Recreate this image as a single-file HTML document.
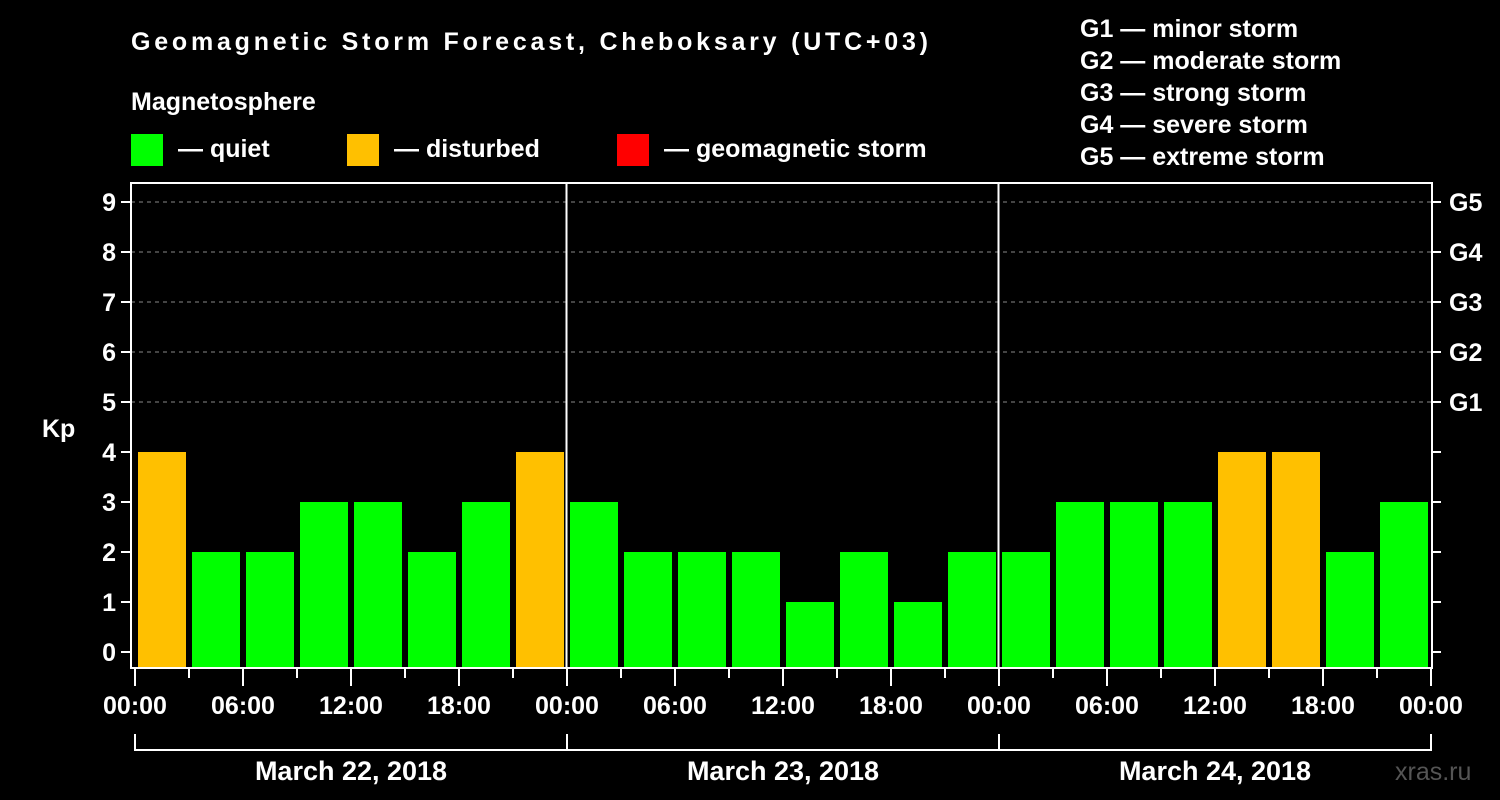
<!DOCTYPE html>
<html><head><meta charset="utf-8"><style>
html,body{margin:0;padding:0;background:#000;}
svg{display:block;font-family:"Liberation Sans",Arial,sans-serif;font-weight:bold;}
</style></head><body>
<svg id="chart" width="1500" height="800" viewBox="0 0 1500 800">
<rect width="1500" height="800" fill="#000"/>
<text x="131" y="50" font-size="25" fill="#fff" textLength="797">Geomagnetic Storm Forecast, Cheboksary (UTC+03)</text>
<text x="131" y="110" font-size="25" fill="#fff">Magnetosphere</text>
<rect x="131" y="134" width="32" height="32" fill="#00ff00"/>
<text x="178" y="157" font-size="25" fill="#fff">— quiet</text>
<rect x="347" y="134" width="32" height="32" fill="#ffc000"/>
<text x="394" y="157" font-size="25" fill="#fff">— disturbed</text>
<rect x="617" y="134" width="32" height="32" fill="#ff0000"/>
<text x="664" y="157" font-size="25" fill="#fff">— geomagnetic storm</text>
<g font-size="25" fill="#fff">
<text x="1080" y="37">G1 — minor storm</text>
<text x="1080" y="69">G2 — moderate storm</text>
<text x="1080" y="101">G3 — strong storm</text>
<text x="1080" y="133">G4 — severe storm</text>
<text x="1080" y="165">G5 — extreme storm</text>
</g>
<text x="42" y="437" font-size="25" fill="#fff">Kp</text>
<text x="1395" y="780" font-size="25" fill="#555" font-weight="normal">xras.ru</text>
<g id="plot"></g>
</svg>
<script>
const days = ["March 22, 2018", "March 23, 2018", "March 24, 2018"];
const kpValues = [4,2,2,3,3,2,3,4, 3,2,2,2,1,2,1,2, 2,3,3,3,4,4,2,3];
const timeLabels = ["00:00","06:00","12:00","18:00"];
const yTicks = [0,1,2,3,4,5,6,7,8,9];
const gLabels = ["G1","G2","G3","G4","G5"];

const X0 = 135, SLOT = 54, Y0 = 652, UNIT = 50, TOP = 183, BOT = 668;
const x = i => X0 + i * SLOT;
const y = v => Y0 - v * UNIT;
const NS = "http://www.w3.org/2000/svg";
const g = document.getElementById("plot");
function mk(tag, attrs, parent) {
  const e = document.createElementNS(NS, tag);
  for (const k in attrs) e.setAttribute(k, attrs[k]);
  (parent || g).appendChild(e);
  return e;
}
const n = kpValues.length;
const XR = x(n);
// grid lines
yTicks.forEach(v => {
  if (v >= 5) {
    const l = mk("line", {x1: 131, x2: XR, y1: y(v), y2: y(v), stroke: "#888", "stroke-dasharray": "4,4", "stroke-width": 1});
    
    
  }
});
// bars
kpValues.forEach((v, i) => {
  const r = mk("rect", {x: x(i) + 3, y: y(v), width: 48, height: BOT - y(v), fill: v >= 5 ? "#ff0000" : (v >= 4 ? "#ffc000" : "#00ff00")});
  
  
});
// day separators
for (let d = 1; d < days.length; d++) {
  const l = mk("line", {x1: x(d * 8) - 0.5, x2: x(d * 8) - 0.5, y1: TOP, y2: BOT, stroke: "#fff", "stroke-width": 2});
  
  
}
// frame
const fr = mk("rect", {x: 131, y: TOP, width: XR + 1 - 131, height: BOT - TOP, fill: "none", stroke: "#fff", "stroke-width": 2});


// y ticks & labels
yTicks.forEach(v => {
  const t1 = mk("line", {x1: 121, x2: 131, y1: y(v), y2: y(v), stroke: "#fff", "stroke-width": 2});
  
  
  const t2 = mk("line", {x1: XR + 1, x2: XR + 10, y1: y(v), y2: y(v), stroke: "#fff", "stroke-width": 2});
  
  
  const tx = mk("text", {x: 116, y: y(v) + 9, "font-size": 25, fill: "#fff", "text-anchor": "end"});
  tx.textContent = v;
  
  
  if (v >= 5) {
    const gt = mk("text", {x: 1449, y: y(v) + 9, "font-size": 25, fill: "#fff"});
    gt.textContent = gLabels[v - 5];
    
    
  }
});
// x ticks
for (let i = 0; i <= n; i++) {
  const major = i % 2 === 0;
  const t = mk("line", {x1: x(i), x2: x(i), y1: BOT, y2: major ? 686 : 678, stroke: "#fff", "stroke-width": 2});
  
  
  if (major) {
    const lt = mk("text", {x: x(i), y: 714, "font-size": 25, fill: "#fff", "text-anchor": "middle"});
    lt.textContent = timeLabels[(i / 2) % 4];
    
    
  }
}
// day brackets
days.forEach((d, k) => {
  const a = x(k * 8), b = x((k + 1) * 8);
  const p = mk("path", {d: `M${a} 734V750H${b}V734`, stroke: "#fff", "stroke-width": 2, fill: "none"});
  
  
  const t = mk("text", {x: (a + b) / 2, y: 780, "font-size": 27, fill: "#fff", "text-anchor": "middle"});
  t.textContent = d;
  
  
});
</script>
</body></html>
